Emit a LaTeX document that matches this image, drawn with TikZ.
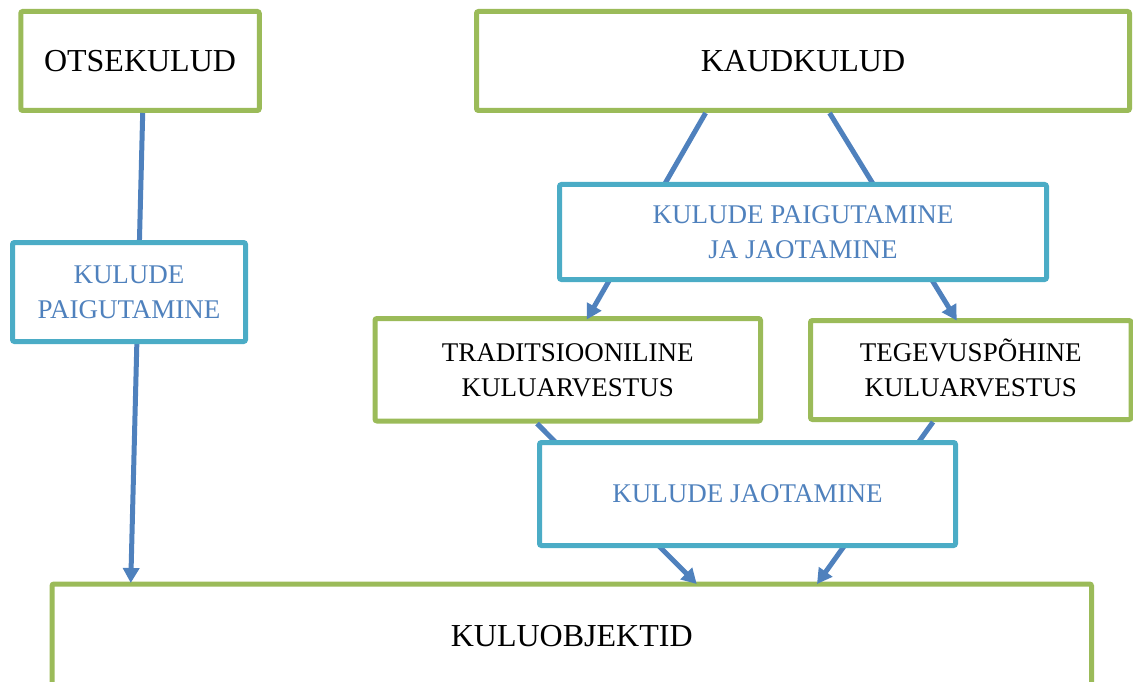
\documentclass[tikz,border=0pt]{standalone}
\usepackage{fontspec}
\setmainfont{Liberation Serif}
\usetikzlibrary{arrows.meta,calc}

\definecolor{boxgreen}{HTML}{9BBB59}
\definecolor{boxteal}{HTML}{4BACC6}
\definecolor{flowblue}{HTML}{4F81BD}

\tikzset{
  box/.style={rectangle, draw, line width=5pt, rounded corners=2pt, fill=white,
    inner sep=0pt, outer sep=0pt, align=center, text depth=0pt},
  bigbox/.style={box, draw=boxgreen, text=black,
    font=\fontsize{32}{38}\selectfont, text height=21pt},
  costbox/.style={box, draw=boxgreen, text=black,
    font=\fontsize{27}{35}\selectfont, text height=17.7pt},
  stepbox/.style={box, draw=boxteal, text=flowblue,
    font=\fontsize{27}{35}\selectfont, text height=17.7pt},
  % the box baseline sits on the last line: reserve the line above it
  twolines/.style={text height=52.7pt, text depth=0pt},
  conn/.style={draw=flowblue, line width=5pt,
    -{Triangle[length=15pt,width=16pt]}}
}

\begin{document}
\begin{tikzpicture}[x=1pt,y=-1pt]
\path[use as bounding box, clip] (0,0) rectangle (1133,682);

% cost categories and cost objects
\node[bigbox, minimum width=238.5pt, minimum height=99pt] (otse) at (140,61) {OTSEKULUD};
\node[bigbox, minimum width=653pt, minimum height=99pt] (kaud) at (803,61) {KAUDKULUD};
\node[costbox, twolines, minimum width=385.5pt, minimum height=102.5pt] (trad) at (567.75,369.75) {TRADITSIOONILINE\\KULUARVESTUS};
\node[costbox, twolines, minimum width=320.5pt, minimum height=99pt] (teg) at (970.75,370) {TEGEVUSPÕHINE\\KULUARVESTUS};
\node[bigbox, minimum width=1039.5pt, minimum height=104pt] (objekt) at (571.75,636) {KULUOBJEKTID};

% flows
\draw[conn] ($(otse.south)+(2.7,2.5)$) -- ($(objekt.north)+(-441,-1)$);
\draw[conn] ($(kaud.south)+(-97.4,2.5)$) -- ($(trad.north)+(19,1)$);
\draw[conn] ($(kaud.south)+(26.6,2.5)$) -- ($(teg.north)+(-14,0)$);
\draw[conn] ($(trad.south)+(-30.75,2.5)$) -- ($(objekt.north)+(125,0)$);
\draw[conn] ($(teg.south)+(-37.75,2.5)$) -- ($(objekt.north)+(245.25,0)$);

% processing steps, laid over the flows
\node[stepbox, twolines, minimum width=233pt, minimum height=99pt] (paig) at (129,292) {KULUDE\\PAIGUTAMINE};
\node[stepbox, twolines, minimum width=487pt, minimum height=95pt] (paigjaot) at (803,232) {KULUDE PAIGUTAMINE\\JA JAOTAMINE};
\node[stepbox, minimum width=416pt, minimum height=103pt] (jaot) at (747.5,494) {KULUDE JAOTAMINE};
\end{tikzpicture}
\end{document}
